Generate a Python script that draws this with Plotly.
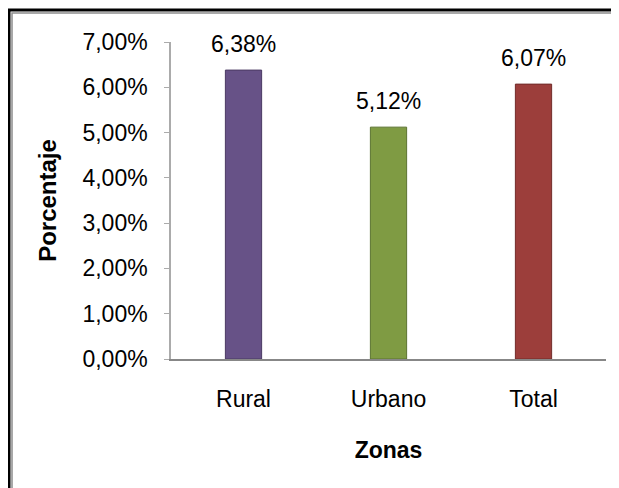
import plotly.graph_objects as go

categories = ["Rural", "Urbano", "Total"]
values = [0.0638, 0.0512, 0.0607]
colors = ["#675287", "#7F9B43", "#9C3E3B"]
outline = ["#4A3A63", "#5C7330", "#722C2A"]
y_ticks = [0, 0.01, 0.02, 0.03, 0.04, 0.05, 0.06, 0.07]

# page body has an 8px margin; figure coordinates are page coordinates minus 8
W, H = 619, 488
L, R, T, B = 163, 21, 33.5, 137
pw, ph = W - L - R, H - T - B

fig = go.Figure()
fig.add_trace(go.Bar(
    x=categories, y=values,
    marker=dict(color=colors, line=dict(color=outline, width=1)),
    width=0.25,
    hoverinfo="skip",
))

for c, v in zip(categories, values):
    fig.add_annotation(x=c, y=v, text=f"{v*100:.2f}%".replace(".", ","),
                       showarrow=False, yanchor="bottom", yshift=11,
                       font=dict(size=23, color="#000000"))

def px(xp):
    return (xp - L) / pw

def py(yp):
    return 1 - (yp - T) / ph

fig.add_shape(type="rect", xref="paper", yref="paper",
              x0=px(1), x1=px(640), y0=py(510), y1=py(1.5),
              line=dict(color="#000000", width=3), layer="below")
fig.add_shape(type="rect", xref="paper", yref="paper",
              x0=px(4), x1=px(640), y0=py(510), y1=py(4.5),
              line=dict(color="#8C8C8C", width=1.5), layer="below")

fig.update_layout(
    width=W, height=H,
    margin=dict(l=L, r=R, t=T, b=B),
    paper_bgcolor="#FFFFFF", plot_bgcolor="#FFFFFF",
    font=dict(family="Liberation Sans, Arial, sans-serif", size=23, color="#000000"),
    separators=",.",
    showlegend=False,
    xaxis=dict(
        showline=True, linecolor="#878787", linewidth=2,
        ticks="", showgrid=False, zeroline=False,
        ticklabelstandoff=18,
        tickfont=dict(size=23),
        title=dict(text="<b>Zonas</b>", font=dict(size=23), standoff=31),
    ),
    yaxis=dict(
        range=[0, 0.07], tickvals=y_ticks, tickformat=".2%",
        showline=True, linecolor="#ABABAB", linewidth=1.5,
        ticks="outside", ticklen=5, tickcolor="#ABABAB",
        showgrid=False, zeroline=False,
        ticklabelstandoff=12,
        tickfont=dict(size=23),
        title=dict(text="<b>Porcentaje</b>", font=dict(size=24), standoff=19),
    ),
)

fig.write_html("out.html")
